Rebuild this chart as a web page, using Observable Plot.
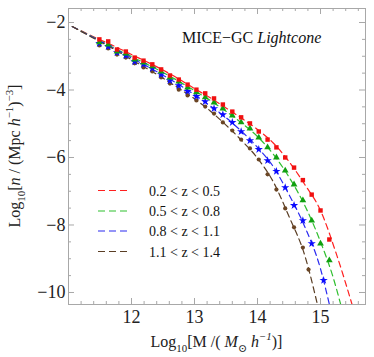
<!DOCTYPE html>
<html><head><meta charset="utf-8">
<script src="https://cdn.jsdelivr.net/npm/d3@7"></script>
<script src="https://cdn.jsdelivr.net/npm/@observablehq/plot@0.6"></script>
<style>
html,body{margin:0;padding:0;background:#fff}
#chart{width:374px;height:357px;position:relative}
</style>
</head><body><div id="chart"></div>
<script>
// ---------- data ----------
const seriesNames = ["0.2 < z < 0.5", "0.5 < z < 0.8", "0.8 < z < 1.1", "1.1 < z < 1.4"];
const lineColors = ["#ff1f1f", "#2fbf2f", "#2a2af0", "#5a3e24"];
const markColors = ["#f01010", "#10a010", "#0a0aff", "#6a4524"];
const markSymbols = ["square", "triangle", "star", "circle"];

// measured points (markers)
const xRed   = [11.49,11.63,11.77,11.91,12.05,12.19,12.33,12.47,12.61,12.75,12.89,13.03,13.17,13.31,13.45,13.60,13.74,13.88,14.02,14.16,14.30,14.44,14.58,14.72,14.86,15.00,15.14];
const yRed   = [-2.50,-2.56,-2.80,-2.86,-3.04,-3.13,-3.24,-3.39,-3.57,-3.69,-3.84,-3.99,-4.10,-4.25,-4.43,-4.64,-4.81,-4.99,-5.23,-5.47,-5.70,-6.00,-6.30,-6.67,-7.10,-7.57,-8.43];
const xGreen = [11.49,11.63,11.77,11.91,12.05,12.19,12.33,12.47,12.61,12.75,12.89,13.03,13.17,13.31,13.45,13.60,13.74,13.88,14.02,14.16,14.30,14.44,14.58,14.72,14.86,15.00,15.14];
const yGreen = [-2.59,-2.65,-2.86,-2.92,-3.10,-3.19,-3.30,-3.45,-3.63,-3.75,-3.93,-4.07,-4.22,-4.37,-4.55,-4.76,-4.96,-5.14,-5.41,-5.70,-6.00,-6.39,-6.80,-7.27,-7.87,-8.55,-9.05];
const xBlue  = [11.49,11.63,11.77,11.91,12.05,12.19,12.33,12.47,12.61,12.75,12.89,13.03,13.17,13.31,13.45,13.60,13.74,13.88,14.02,14.16,14.30,14.44,14.58,14.72,14.86,15.05];
const yBlue  = [-2.62,-2.71,-2.89,-2.98,-3.16,-3.24,-3.36,-3.54,-3.72,-3.87,-4.04,-4.19,-4.34,-4.55,-4.73,-4.96,-5.23,-5.50,-5.76,-6.09,-6.41,-6.89,-7.42,-7.87,-8.55,-9.64];
const xBrown = [11.49,11.63,11.77,11.91,12.05,12.19,12.33,12.47,12.61,12.75,12.89,13.03,13.17,13.31,13.45,13.60,13.74,13.88,14.02,14.16,14.30,14.44,14.58,14.72,14.81];
const yBrown = [-2.68,-2.77,-2.95,-3.04,-3.21,-3.33,-3.45,-3.63,-3.81,-3.99,-4.16,-4.31,-4.49,-4.70,-4.96,-5.20,-5.47,-5.73,-6.06,-6.50,-6.95,-7.51,-8.07,-8.67,-9.32];

// fitted curves (dashed)
const fxRed   = [11.06,11.5,11.75,12.0,12.25,12.5,12.75,13.0,13.25,13.5,13.75,14.0,14.25,14.5,14.75,15.0,15.25,15.5];
const fyRed   = [-2.12,-2.51,-2.72,-2.95,-3.17,-3.41,-3.67,-3.96,-4.23,-4.53,-4.84,-5.17,-5.57,-6.12,-6.80,-7.57,-8.85,-10.35];
const fxGreen = [11.06,11.5,11.75,12.0,12.25,12.5,12.75,13.0,13.25,13.5,13.75,14.0,14.25,14.5,14.75,15.0,15.2,15.32];
const fyGreen = [-2.12,-2.54,-2.78,-3.01,-3.24,-3.48,-3.74,-4.02,-4.31,-4.63,-4.98,-5.38,-5.90,-6.58,-7.42,-8.50,-9.55,-10.35];
const fxBlue  = [11.06,11.5,11.75,12.0,12.25,12.5,12.75,13.0,13.25,13.5,13.75,14.0,14.25,14.5,14.75,15.0,15.14];
const fyBlue  = [-2.12,-2.55,-2.80,-3.05,-3.30,-3.56,-3.84,-4.14,-4.47,-4.82,-5.23,-5.70,-6.27,-7.10,-8.05,-9.30,-10.35];
const fxBrown = [11.06,11.5,11.75,12.0,12.25,12.5,12.75,13.0,13.25,13.5,13.75,14.0,14.25,14.5,14.75,14.95];
const fyBrown = [-2.12,-2.57,-2.82,-3.10,-3.37,-3.65,-3.95,-4.26,-4.62,-5.04,-5.50,-6.02,-6.72,-7.75,-8.90,-10.35];

// axes
const xTickValues = [12, 13, 14, 15];
const yTickValues = [-2, -4, -6, -8, -10];
const xMinorTicks = [11.2,11.4,11.6,11.8,12.2,12.4,12.6,12.8,13.2,13.4,13.6,13.8,14.2,14.4,14.6,14.8,15.2,15.4,15.6];
const yMinorTicks = [-2.5,-3,-3.5,-4.5,-5,-5.5,-6.5,-7,-7.5,-8.5,-9,-9.5];
const titleText = ["MICE\u2212GC ", "Lightcone"];

// ---------- build ----------
const pts = [[xRed,yRed],[xGreen,yGreen],[xBlue,yBlue],[xBrown,yBrown]];
const fits = [[fxRed,fyRed],[fxGreen,fyGreen],[fxBlue,fyBlue],[fxBrown,fyBrown]];
const dotRows = pts.map(([xs,ys],i)=>xs.map((x,j)=>({x, y: ys[j], s: i})));
const lineRows = fits.map(([xs,ys],i)=>xs.map((x,j)=>({x, y: ys[j], s: i})));

const W = 374, H = 357, mL = 68, mR = 9, mT = 8, mB = 53;
const fw = W - mL - mR, fh = H - mT - mB;
const FONT = "'Liberation Serif','DejaVu Serif',serif";
const gray = "#a8a8a8";
const fmt = d => d < 0 ? "\u2212" + Math.abs(d) : String(d);
const majorLen = 6, minorLen = 3;

const marks = [
  Plot.frame({stroke: gray}),
  Plot.tickX(xTickValues, {x: d => d, stroke: gray, insetTop: fh - majorLen}),
  Plot.tickX(xMinorTicks, {x: d => d, stroke: gray, insetTop: fh - minorLen}),
  Plot.tickX(xTickValues, {x: d => d, stroke: gray, insetBottom: fh - majorLen}),
  Plot.tickX(xMinorTicks, {x: d => d, stroke: gray, insetBottom: fh - minorLen}),
  Plot.tickY(yTickValues, {y: d => d, stroke: gray, insetRight: fw - majorLen}),
  Plot.tickY(yMinorTicks, {y: d => d, stroke: gray, insetRight: fw - minorLen}),
  Plot.tickY(yTickValues, {y: d => d, stroke: gray, insetLeft: fw - majorLen}),
  Plot.tickY(yMinorTicks, {y: d => d, stroke: gray, insetLeft: fw - minorLen}),
  Plot.axisX({ticks: xTickValues, tickSize: 0, tickPadding: 6, fontSize: 18, tickFormat: fmt, label: null, fill: "#222"}),
  Plot.axisY({ticks: yTickValues, tickSize: 0, tickPadding: 3, fontSize: 18, tickFormat: fmt, label: null, fill: "#222"}),
];
for (let i = 0; i < 4; i++) {
  marks.push(Plot.line(lineRows[i], {x: "x", y: "y", stroke: lineColors[i], strokeWidth: 1.2, strokeDasharray: "6,4", curve: "monotone-x", clip: true}));
}
for (let i = 3; i >= 0; i--) {
  const r = markSymbols[i] === "circle" ? 2.1 : markSymbols[i] === "star" ? 2.6 : 2.5;
  marks.push(Plot.dot(dotRows[i], {x: "x", y: "y", symbol: () => markSymbols[i], fill: markColors[i], stroke: "none", r}));
}

const chart = Plot.plot({
  width: W, height: H,
  marginLeft: mL, marginRight: mR, marginTop: mT, marginBottom: mB,
  x: {domain: [11.0, 15.714]},
  y: {domain: [-10.356, -1.585]},
  symbol: {type: "identity"},
  style: {fontFamily: FONT, background: "#fff", color: "#222"},
  marks
});
document.getElementById("chart").appendChild(chart);

// ---------- rich text: labels, annotation, legend ----------
const svg = d3.select(chart);
function rich(sel, parts, fs) {
  let cur = 0;
  parts.forEach(p => {
    const target = p.sub ? fs * 0.32 : p.sup ? -fs * 0.42 : 0;
    sel.append("tspan")
      .attr("dy", target - cur)
      .attr("font-size", (p.sub || p.sup) ? fs * 0.68 : fs)
      .attr("font-style", p.it ? "italic" : "normal")
      .text(p.t);
    cur = target;
  });
}
const labelFs = 16;
const xl = svg.append("text").attr("x", mL + fw / 2).attr("y", 347)
  .attr("text-anchor", "middle").attr("font-family", FONT).attr("fill", "#222");
rich(xl, [{t:"Log"},{t:"10",sub:true},{t:"[M /( "},{t:"M",it:true},{t:"\u2299",sub:true},{t:" "},{t:"h",it:true},{t:"\u22121",sup:true,it:true},{t:")]"}], labelFs);

const yl = svg.append("text").attr("transform", `translate(20,${mT + fh / 2}) rotate(-90)`)
  .attr("text-anchor", "middle").attr("font-family", FONT).attr("fill", "#222");
rich(yl, [{t:"Log"},{t:"10",sub:true},{t:"["},{t:"n",it:true},{t:" / (Mpc "},{t:"h",it:true},{t:"\u22121",sup:true},{t:")"},{t:"\u22123",sup:true},{t:"]"}], labelFs);

const tt = svg.append("text").attr("x", 182).attr("y", 43).attr("text-anchor", "start")
  .attr("font-family", FONT).attr("fill", "#111").attr("font-size", 16);
tt.append("tspan").text(titleText[0]);
tt.append("tspan").attr("font-style", "italic").text(titleText[1]);

const legY = [190.5, 211, 231, 251.5];
seriesNames.forEach((name, i) => {
  svg.append("line").attr("x1", 98).attr("x2", 130).attr("y1", legY[i]).attr("y2", legY[i])
    .attr("stroke", lineColors[i]).attr("stroke-width", 1.2).attr("stroke-dasharray", "7,4");
  svg.append("text").attr("x", 149).attr("y", legY[i] + 5).attr("text-anchor", "start")
    .attr("font-family", FONT).attr("font-size", 14).attr("fill", "#111").text(name);
});
</script>
</body></html>
